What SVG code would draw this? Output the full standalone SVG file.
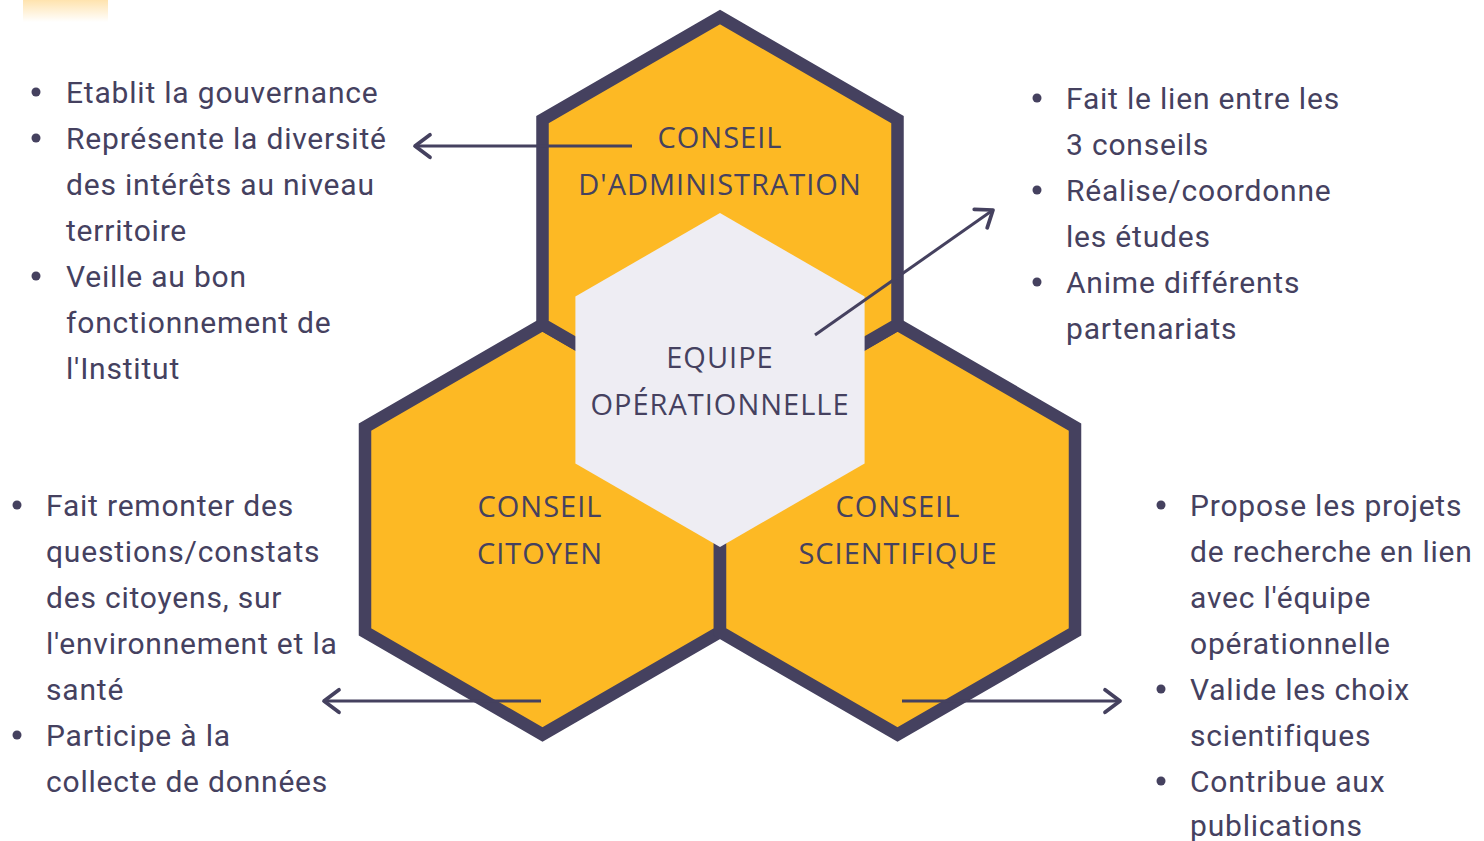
<svg xmlns="http://www.w3.org/2000/svg" width="1484" height="841" viewBox="0 0 1484 841">
<defs>
<linearGradient id="glow" x1="0" y1="0" x2="0" y2="1">
<stop offset="0" stop-color="#FFE3AE"/>
<stop offset="1" stop-color="#FFFFFF"/>
</linearGradient>
<marker id="arr" markerUnits="userSpaceOnUse" markerWidth="30" markerHeight="30" viewBox="-16 -12 20 24" refX="0" refY="0" orient="auto">
<path d="M -12 -9 L 0 0 L -12 9" fill="none" stroke="#45415F" stroke-width="3" stroke-linecap="round" stroke-linejoin="round"/>
</marker>
</defs>
<style>
.hex{fill:#FDB924;stroke:#45415F;stroke-width:12.5;stroke-linejoin:miter}
.core{fill:#EEEDF3}
.lbl{font-family:"Open Sans","Noto Sans",sans-serif;font-size:29px;fill:#45415F;text-anchor:middle;letter-spacing:1px}
.txt{font-family:Roboto,"Liberation Sans",sans-serif;font-size:30px;fill:#45415F;letter-spacing:0.8px}
.dot{fill:#45415F}
.con{stroke:#45415F;stroke-width:3;fill:none;marker-end:url(#arr)}
</style>
<rect x="23" y="0" width="85" height="22" fill="url(#glow)"/>
<g id="conseil-citoyen">
<polygon class="hex" points="542.5,324.5 720,427 720,632 542.5,734.5 365,632 365,427"/>
<text class="lbl" x="540" y="517">CONSEIL</text>
<text class="lbl" x="540" y="564">CITOYEN</text>
</g>
<g id="conseil-scientifique">
<polygon class="hex" points="897.5,324.5 1075,427 1075,632 897.5,734.5 720,632 720,427"/>
<text class="lbl" x="898" y="517">CONSEIL</text>
<text class="lbl" x="898" y="564">SCIENTIFIQUE</text>
</g>
<g id="conseil-administration">
<polygon class="hex" points="720,17 897.5,119.5 897.5,324.5 720,427 542.5,324.5 542.5,119.5"/>
<text class="lbl" x="720" y="148">CONSEIL</text>
<text class="lbl" x="720" y="195">D'ADMINISTRATION</text>
</g>
<g id="equipe-operationnelle">
<polygon class="core" points="720,213 864.6,296.5 864.6,463.5 720,547 575.4,463.5 575.4,296.5"/>
<text class="lbl" x="720" y="368">EQUIPE</text>
<text class="lbl" x="720" y="415">OPÉRATIONNELLE</text>
</g>
<g id="texte-administration">
<circle class="dot" cx="36" cy="92" r="4.5"/>
<circle class="dot" cx="36" cy="138" r="4.5"/>
<circle class="dot" cx="36" cy="276" r="4.5"/>
<text class="txt" x="66" y="103">Etablit la gouvernance</text>
<text class="txt" x="66" y="149">Représente la diversité</text>
<text class="txt" x="66" y="195">des intérêts au niveau</text>
<text class="txt" x="66" y="241">territoire</text>
<text class="txt" x="66" y="287">Veille au bon</text>
<text class="txt" x="66" y="333">fonctionnement de</text>
<text class="txt" x="66" y="379">l'Institut</text>
</g>
<g id="texte-equipe">
<circle class="dot" cx="1037" cy="98" r="4.5"/>
<circle class="dot" cx="1037" cy="190" r="4.5"/>
<circle class="dot" cx="1037" cy="282" r="4.5"/>
<text class="txt" x="1066" y="109">Fait le lien entre les</text>
<text class="txt" x="1066" y="155">3 conseils</text>
<text class="txt" x="1066" y="201">Réalise/coordonne</text>
<text class="txt" x="1066" y="247">les études</text>
<text class="txt" x="1066" y="293">Anime différents</text>
<text class="txt" x="1066" y="339">partenariats</text>
</g>
<g id="texte-citoyen">
<circle class="dot" cx="17" cy="505" r="4.5"/>
<circle class="dot" cx="17" cy="735" r="4.5"/>
<text class="txt" x="46" y="516">Fait remonter des</text>
<text class="txt" x="46" y="562">questions/constats</text>
<text class="txt" x="46" y="608">des citoyens, sur</text>
<text class="txt" x="46" y="654">l'environnement et la</text>
<text class="txt" x="46" y="700">santé</text>
<text class="txt" x="46" y="746">Participe à la</text>
<text class="txt" x="46" y="792">collecte de données</text>
</g>
<g id="texte-scientifique">
<circle class="dot" cx="1161" cy="505" r="4.5"/>
<circle class="dot" cx="1161" cy="689" r="4.5"/>
<circle class="dot" cx="1161" cy="781" r="4.5"/>
<text class="txt" x="1190" y="516">Propose les projets</text>
<text class="txt" x="1190" y="562">de recherche en lien</text>
<text class="txt" x="1190" y="608">avec l'équipe</text>
<text class="txt" x="1190" y="654">opérationnelle</text>
<text class="txt" x="1190" y="700">Valide les choix</text>
<text class="txt" x="1190" y="746">scientifiques</text>
<text class="txt" x="1190" y="792">Contribue aux</text>
<text class="txt" x="1190" y="836">publications</text>
</g>
<g id="connecteurs">
<line class="con" x1="632" y1="146" x2="415" y2="146"/>
<line class="con" x1="815" y1="335" x2="993" y2="210"/>
<line class="con" x1="541" y1="701" x2="324" y2="701"/>
<line class="con" x1="902" y1="701" x2="1120" y2="701"/>
</g>
</svg>
